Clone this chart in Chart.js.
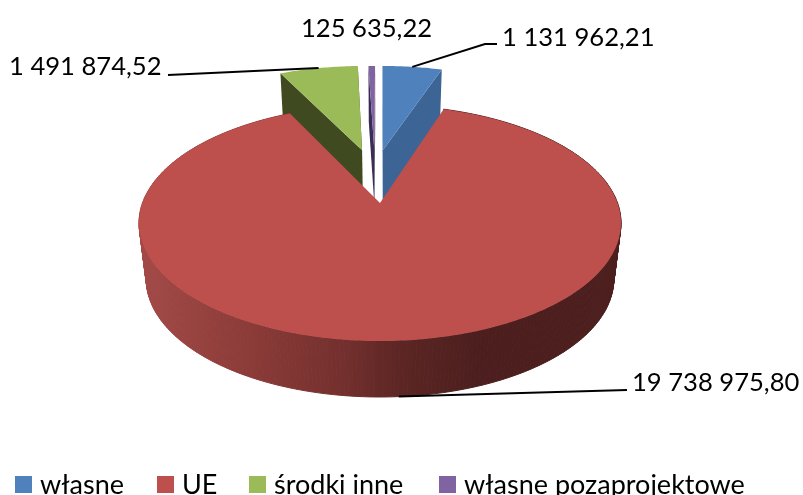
<!DOCTYPE html>
<html lang="pl">
<head>
<meta charset="utf-8">
<title>Wykres</title>
<script src="https://cdn.jsdelivr.net/npm/chart.js@4"></script>
<style>
    html, body { margin: 0; padding: 0; background: #fff; overflow: hidden; }
    #wrap { position: relative; width: 803px; height: 495px; overflow: hidden; }
    canvas { position: absolute; left: 0; top: 0; }
    .lg { position: absolute; top: 467px; font: 27px/33px Lato, sans-serif; color: #000; white-space: nowrap; }
    .lg i { position: absolute; left: 0; top: 9px; width: 17px; height: 17px; }
    .lg span { position: absolute; left: 25px; top: 0; }
</style>
</head>
<body>
<div id="wrap"><canvas id="chart" width="803" height="495"></canvas></div>
<script>
const categories = ['własne', 'UE', 'środki inne', 'własne pozaprojektowe'];
const values = [1131962.21, 19738975.80, 1491874.52, 125635.22];

const sliceColors = ['#4f81bd', '#bd4f4c', '#9bbb59', '#8064a2'];
const sideColors = ['#3c6494', '#bd4f4c', '#404a20', '#3a2d55'];

// wysunięcie wycinków, w jednostkach promienia koła
const explodeU = [0.013, 0, -0.082, -0.026];
const explodeV = [0.5, 0, 0.5, 0.5];

// popisy: lewy okraj, linia bazowa, załamania linii odniesienia
const labelX = [502, 632, 9, 301];
const labelY = [46, 391, 75, 37];
const leaderBends = [[[485, 44], [497, 44]], [[627, 390]], [[168, 75]], null];
const legendX = [15, 157, 249, 439];

// rzut perspektywiczny koła na ekran
const cx = 380, cy = 203, rx = 237.5, ry = 114.6, persp = 0.1695;
const depth = 56, bottomScale = 0.97;

function project(u, v, low) {
    const s = 1 / (1 + persp * v);
    const x = rx * u * s;
    const y = cy - ry * v * s;
    return low ? [cx + x * bottomScale, y + depth] : [cx + x, y];
}

function rimPoints(arc, du, dv, low) {
    const pts = [];
    const steps = Math.max(2, Math.ceil((arc.endAngle - arc.startAngle) / 0.015));
    for (let i = 0; i <= steps; i++) {
        const a = arc.startAngle + (arc.endAngle - arc.startAngle) * i / steps;
        pts.push(project(Math.cos(a) + du, -Math.sin(a) + dv, low));
    }
    return pts;
}

function fillPath(ctx, pts, style, seal) {
    ctx.beginPath();
    pts.forEach((p, i) => (i ? ctx.lineTo(p[0], p[1]) : ctx.moveTo(p[0], p[1])));
    ctx.closePath();
    ctx.fillStyle = style;
    ctx.fill();
    if (seal) {
        ctx.strokeStyle = style;
        ctx.lineWidth = 1;
        ctx.stroke();
    }
}

function formatValue(v) {
    return v.toFixed(2).replace('.', ',').replace(/\B(?=(\d{3})+(?!\d))/g, ' ');
}

const pie3d = {
    id: 'pie3d',
    beforeDatasetDraw(chart) {
        const ctx = chart.ctx;
        const arcs = chart.getDatasetMeta(0).data;
        // tylne wycinki najpierw, UE na wierzchu
        [0, 2, 3, 1].forEach(function (i) {
            const arc = arcs[i];
            const du = explodeU[i], dv = explodeV[i];
            const rim = rimPoints(arc, du, dv, false);
            const rimLow = rimPoints(arc, du, dv, true);
            const apex = project(du, dv, false);
            const apexLow = project(du, dv, true);

            if (i === 1) {
                const g = ctx.createLinearGradient(140, 0, 620, 0);
                g.addColorStop(0, '#a34a47');
                g.addColorStop(0.23, '#8b3b38');
                g.addColorStop(0.42, '#74302e');
                g.addColorStop(0.54, '#5c2624');
                g.addColorStop(0.7, '#4c1f1e');
                g.addColorStop(1, '#4c1f1e');
                // bok koła odcinek po odcinku, żeby domknąć krawędzie po bokach
                for (let k = 0; k < rim.length - 1; k++) {
                    fillPath(ctx, [rim[k], rim[k + 1], rimLow[k + 1], rimLow[k]], g, true);
                }
            } else {
                fillPath(ctx, [apex, rim[0], rimLow[0], apexLow], sideColors[i]);
                const n = rim.length - 1;
                fillPath(ctx, [apex, rim[n], rimLow[n], apexLow], sideColors[i]);
            }
            fillPath(ctx, [apex].concat(rim), sliceColors[i]);
        });
        return false;
    },
    afterDraw(chart) {
        const ctx = chart.ctx;
        const arcs = chart.getDatasetMeta(0).data;
        ctx.save();
        ctx.strokeStyle = '#000';
        ctx.lineWidth = 2;
        arcs.forEach(function (arc, i) {
            if (!leaderBends[i]) return;
            const mid = (arc.startAngle + arc.endAngle) / 2;
            const start = project(Math.cos(mid) + explodeU[i], -Math.sin(mid) + explodeV[i], i === 1);
            ctx.beginPath();
            ctx.moveTo(start[0], start[1]);
            leaderBends[i].forEach((p) => ctx.lineTo(p[0], p[1]));
            ctx.stroke();
        });
        ctx.fillStyle = '#000';
        ctx.font = '25.6px Lato, sans-serif';
        ctx.textBaseline = 'alphabetic';
        ctx.textAlign = 'left';
        values.forEach(function (v, i) {
            ctx.fillText(formatValue(v), labelX[i], labelY[i]);
        });
        ctx.restore();
    },
};

new Chart(document.getElementById('chart'), {
    type: 'pie',
    data: {
        labels: categories,
        datasets: [{ data: values, backgroundColor: sliceColors, borderWidth: 0 }],
    },
    options: {
        responsive: false,
        animation: false,
        plugins: { legend: { display: false }, tooltip: { enabled: false } },
    },
    plugins: [pie3d],
});

// Legenda pod wykresem
const wrap = document.getElementById('wrap');
categories.forEach(function (name, i) {
    const item = document.createElement('div');
    item.className = 'lg';
    item.style.left = legendX[i] + 'px';
    item.innerHTML = '<i style="background:' + sliceColors[i] + '"></i><span>' + name + '</span>';
    wrap.appendChild(item);
});
</script>
</body>
</html>
